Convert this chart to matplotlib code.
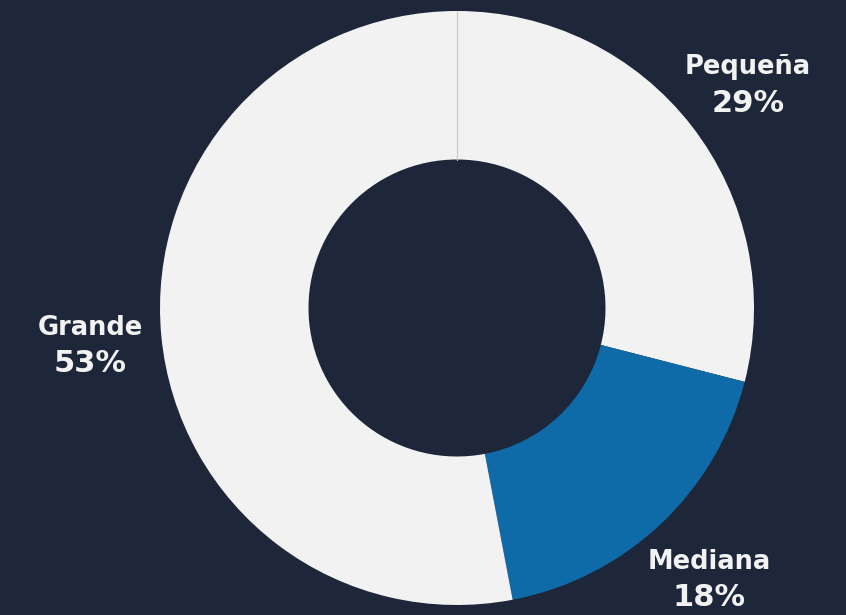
import numpy as np
import matplotlib
matplotlib.use("Agg")
import matplotlib.pyplot as plt

# Company size breakdown
categories = ["Pequeña", "Mediana", "Grande"]
shares = [29, 18, 53]
colors = ["#f2f2f2", "#0e6ba8", "#f2f2f2"]

bg = "#1e2639"
text_color = "#f2f2f2"

fig = plt.figure(figsize=(8.46, 6.15), dpi=100, facecolor=bg)
ax = fig.add_axes([0, 0, 1, 1])
ax.set_facecolor(bg)
ax.axis("off")

wedges, _ = ax.pie(
    shares,
    colors=colors,
    startangle=90,
    counterclock=False,
    radius=1.0,
    wedgeprops=dict(width=0.5, linewidth=0),
)

# thin divider where the two light slices meet
theta = np.deg2rad(wedges[0].theta2)
ax.plot([0.5 * np.cos(theta), np.cos(theta)], [0.5 * np.sin(theta), np.sin(theta)],
        color="#c8c8c8", lw=0.8, zorder=3)

# labels placed outside the ring on each slice's mid-angle
label_r = 1.24
for w, name, val in zip(wedges, categories, shares):
    mid = np.deg2rad((w.theta1 + w.theta2) / 2)
    x, y = label_r * np.cos(mid), label_r * np.sin(mid) - 0.012
    ax.text(x, y + 0.062, name, ha="center", va="center", color=text_color,
            fontsize=18.5, fontweight="bold", family="DejaVu Sans")
    ax.text(x, y - 0.058, f"{val}%", ha="center", va="center", color=text_color,
            fontsize=22, fontweight="bold", family="DejaVu Sans")

# center the ring at the chosen position within the canvas
cx, cy, r = 457, 307, 297
W, H = 846, 615
ax.set_xlim(-cx / r, (W - cx) / r)
ax.set_ylim(-cy / r, (H - cy) / r)
ax.set_aspect("auto")

fig.savefig("out.png", dpi=100, facecolor=bg)
